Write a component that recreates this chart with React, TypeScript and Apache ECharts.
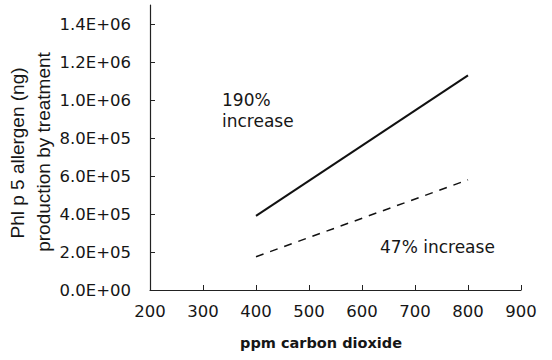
import React, { useEffect, useRef } from "react";
import * as echarts from "echarts";

const co2Levels = [400, 800];
const solidSeries = [390000, 1130000];
const dashedSeries = [175000, 580000];
const xTicks = [200, 300, 400, 500, 600, 700, 800, 900];
const yTicks = [0, 200000, 400000, 600000, 800000, 1000000, 1200000, 1400000];
const yNameLines = ["Phl p 5 allergen (ng)", "production by treatment"];
const xName = "ppm carbon dioxide";
const labelSolid = "190%\nincrease";
const labelDashed = "47% increase";

function fmt(v: number): string {
  const s = v.toExponential(1); // e.g. 2.0e+5
  const [m, e] = s.split("e");
  const sign = e[0] === "-" ? "-" : "+";
  const digits = e.replace(/[+-]/, "").padStart(2, "0");
  return m + "E" + sign + digits;
}

export default function App() {
  const ref = useRef<HTMLDivElement>(null);
  useEffect(() => {
    if (!ref.current) return;
    const chart = echarts.init(ref.current, null, { renderer: "svg" });
    const txt = "#161616";
    const font = "DejaVu Sans";
    chart.setOption({
      animation: false,
      backgroundColor: "#ffffff",
      grid: { left: 150, right: 31, top: 5, bottom: 70, containLabel: false },
      xAxis: {
        type: "value",
        min: 200,
        max: 900,
        interval: 100,
        axisLine: { show: true, lineStyle: { color: "#222", width: 1.2 } },
        axisTick: { show: true, inside: true, length: 5, customValues: xTicks, lineStyle: { color: "#222" } },
        axisLabel: { customValues: xTicks, margin: 13, color: txt, fontFamily: font, fontSize: 16.5 },
        splitLine: { show: false },
      },
      yAxis: {
        type: "value",
        min: 0,
        max: 1500000,
        interval: 100000,
        axisLine: { show: true, lineStyle: { color: "#222", width: 1.2 } },
        axisTick: { show: true, inside: true, length: 5, customValues: yTicks, lineStyle: { color: "#222" } },
        axisLabel: {
          customValues: yTicks,
          margin: 19,
          color: txt,
          fontFamily: font,
          fontSize: 16.5,
          formatter: (v: number) => fmt(v),
        },
        splitLine: { show: false },
      },
      series: [
        {
          type: "line",
          data: co2Levels.map((x, i) => [x, solidSeries[i]]),
          symbol: "none",
          lineStyle: { color: "#111", width: 2, type: "solid" },
        },
        {
          type: "line",
          data: co2Levels.map((x, i) => [x, dashedSeries[i]]),
          symbol: "none",
          lineStyle: { color: "#111", width: 1.5, type: [8, 7] },
        },
      ],
      graphic: [
        {
          type: "text",
          x: 17,
          y: 153,
          rotation: Math.PI / 2,
          style: {
            text: yNameLines[0],
            fill: txt,
            font: "19px 'Liberation Sans'",
            align: "center",
            verticalAlign: "middle",
          },
        },
        {
          type: "text",
          x: 43,
          y: 152,
          rotation: Math.PI / 2,
          style: {
            text: yNameLines[1],
            fill: txt,
            font: "19px 'Liberation Sans'",
            align: "center",
            verticalAlign: "middle",
          },
        },
        {
          type: "text",
          x: 321,
          y: 343,
          style: {
            text: xName,
            fill: txt,
            font: "bold 14.5px 'DejaVu Sans'",
            align: "center",
            verticalAlign: "middle",
          },
        },
        {
          type: "text",
          x: 222,
          y: 89,
          style: {
            text: labelSolid,
            fill: txt,
            font: "17px 'DejaVu Sans'",
            lineHeight: 21,
            align: "left",
            verticalAlign: "top",
          },
        },
        {
          type: "text",
          x: 380,
          y: 247,
          style: {
            text: labelDashed,
            fill: txt,
            font: "17px 'DejaVu Sans'",
            align: "left",
            verticalAlign: "middle",
          },
        },
      ],
    });
    return () => chart.dispose();
  }, []);
  return (
    <div
      ref={ref}
      style={{ position: "absolute", left: 0, top: 0, width: 552, height: 360 }}
    />
  );
}
